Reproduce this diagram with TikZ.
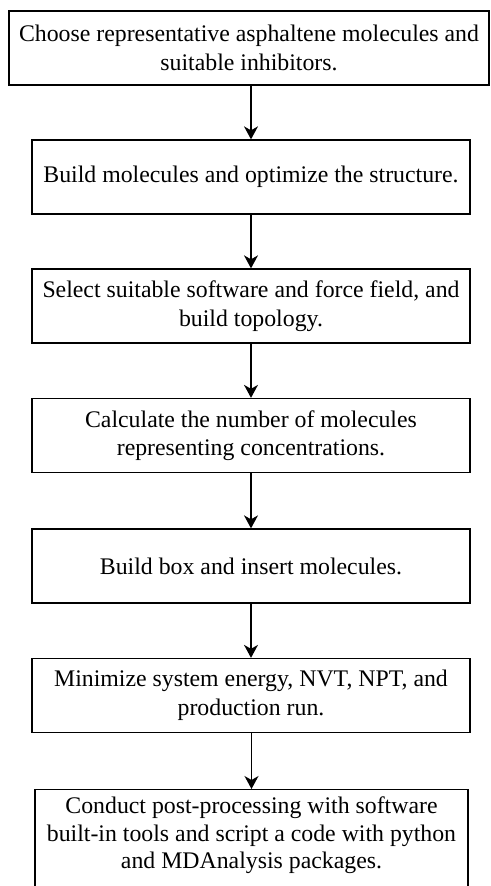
\documentclass[tikz,border=0pt]{standalone}
\usepackage{fontspec}
\setmainfont{Liberation Serif}
\usetikzlibrary{arrows.meta}
\begin{document}
\begin{tikzpicture}[x=1pt,y=-1pt,
  stepbox/.style={draw=black, line width=1.3pt, inner sep=0pt, align=center,
    font=\fontsize{23.8}{28.5}\selectfont, minimum height=74pt},
  flow/.style={draw=black, line width=1.3pt, -{Stealth[length=13pt,width=14pt,inset=4pt]}}]
\clip (0,0) rectangle (490,886);
\fill[white] (0,0) rectangle (490,886);
\node[stepbox, minimum width=480pt] (b1) at (249,48) {Choose representative asphaltene molecules and\\suitable inhibitors.};
\node[stepbox, minimum width=438pt] (b2) at (251,177) {Build molecules and optimize the structure.};
\node[stepbox, minimum width=438pt] (b3) at (251,306) {Select suitable software and force field, and\\build topology.};
\node[stepbox, minimum width=438pt] (b4) at (251,435.5) {Calculate the number of molecules\\representing concentrations.};
\node[stepbox, minimum width=438pt] (b5) at (251,566) {Build box and insert molecules.};
\node[stepbox, minimum width=438pt] (b6) at (251,695.5) {Minimize system energy, NVT, NPT, and\\production run.};
\node[stepbox, minimum width=433pt, minimum height=120pt, anchor=north] (b7) at (251.5,789) {};
\node[align=center, inner sep=0pt, font=\fontsize{23.8}{27.5}\selectfont, anchor=north] (t7) at (251.5,797) {Conduct post-processing with software\\built-in tools and script a code with python\\and MDAnalysis packages.};
\draw[flow] (b1.south -| b2.north) -- (b2.north);
\draw[flow] (b2) -- (b3);
\draw[flow] (b3) -- (b4);
\draw[flow] (b4) -- (b5);
\draw[flow] (b5) -- (b6);
\draw[flow] (b6.south -| b7.north) -- (b7.north);
\end{tikzpicture}
\end{document}
